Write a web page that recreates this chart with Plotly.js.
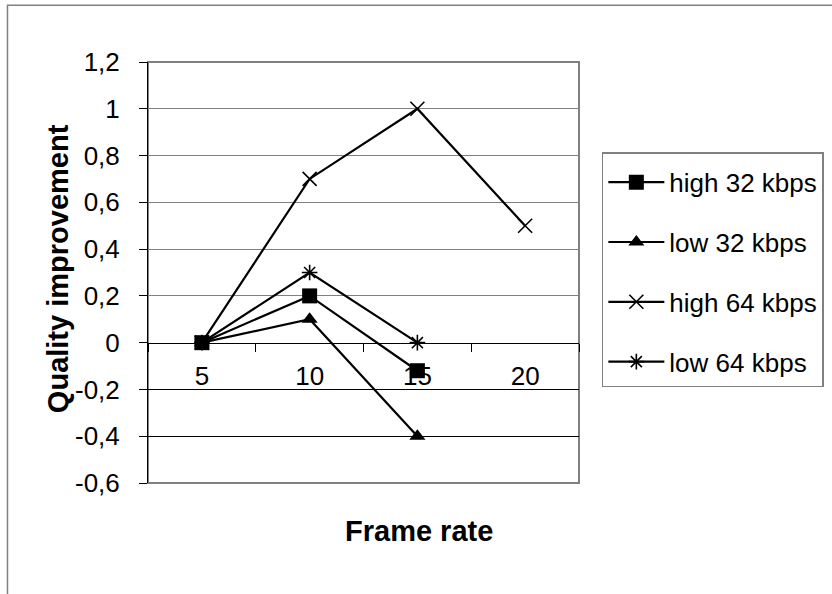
<!DOCTYPE html>
<html>
<head>
<meta charset="utf-8">
<script src="https://cdn.plot.ly/plotly-3.0.1.min.js"></script>
<style>html,body{margin:0;padding:0;background:#fff;}#chart{width:832px;height:594px;}</style>
</head>
<body>
<div id="chart"></div>
<script>
// ---- data ----
const frameRates = ['5', '10', '15', '20'];
const high32 = [0, 0.2, -0.12, null];
const low32 = [0, 0.1, -0.4, null];
const high64 = [0, 0.7, 1.0, 0.5];
const low64 = [0, 0.3, 0, null];
const yTickVals = [-0.6, -0.4, -0.2, 0, 0.2, 0.4, 0.6, 0.8, 1, 1.2];
const yTickLabels = ['-0,6', '-0,4', '-0,2', '0', '0,2', '0,4', '0,6', '0,8', '1', '1,2'];
const posGrid = [0.2, 0.4, 0.6, 0.8, 1, 1.2];
const negGrid = [-0.4, -0.2];

const FONT = 'Liberation Sans, Arial, sans-serif';
const base = {type: 'scatter', mode: 'lines+markers', x: frameRates, line: {color: '#000', width: 2.2}};

const traces = [
  Object.assign({}, base, {name: 'high 64 kbps', y: high64, legendgroup: 'g3', legendrank: 3,
    marker: {symbol: 'x-thin', size: 14, color: '#000', line: {color: '#000', width: 1.6}}}),
  Object.assign({}, base, {name: 'low 64 kbps', y: low64, legendgroup: 'g4', legendrank: 4,
    marker: {symbol: 'asterisk', size: 13, color: '#000', line: {color: '#000', width: 1.6}}}),
  Object.assign({}, base, {name: 'low 32 kbps', y: low32, legendgroup: 'g2', legendrank: 2,
    marker: {symbol: 'triangle-up', size: 14, color: '#000'}}),
  Object.assign({}, base, {name: 'high 32 kbps', y: high32, legendgroup: 'g1', legendrank: 1,
    marker: {symbol: 'square', size: 15, color: '#000'}}),
  // helper traces to attach the grid overlay axes
  {type: 'scatter', x: [frameRates[0]], y: [null], yaxis: 'y2', showlegend: false, hoverinfo: 'skip'},
  {type: 'scatter', x: [frameRates[0]], y: [null], yaxis: 'y3', showlegend: false, hoverinfo: 'skip'}
];

const yRange = [-0.6, 1.2];

const layout = {
  width: 832, height: 594,
  margin: {l: 148, r: 253, t: 62, b: 111, pad: 0, autoexpand: false},
  paper_bgcolor: '#fff', plot_bgcolor: '#fff',
  font: {family: FONT, size: 26, color: '#000'},
  showlegend: true,
  xaxis: {
    type: 'category', categoryorder: 'array', categoryarray: frameRates,
    range: [-0.5, 3.5], fixedrange: true,
    anchor: 'free', position: 1/3,
    showline: true, linecolor: '#000', linewidth: 1,
    showgrid: false, zeroline: false,
    ticks: 'outside', tickson: 'boundaries', ticklen: 8, tickcolor: '#000', tickwidth: 1,
    ticklabelstandoff: 10,
    tickfont: {family: FONT, size: 26, color: '#000'}
  },
  yaxis: {
    range: yRange, fixedrange: true,
    tickmode: 'array', tickvals: yTickVals, ticktext: yTickLabels,
    showline: true, linecolor: '#000', linewidth: 1,
    showgrid: false, zeroline: false,
    ticks: 'outside', ticklen: 8, tickcolor: '#000', tickwidth: 1,
    ticklabelstandoff: 14,
    tickfont: {family: FONT, size: 26, color: '#000'}
  },
  yaxis2: {
    overlaying: 'y', range: yRange, fixedrange: true,
    tickmode: 'array', tickvals: posGrid, showticklabels: false, ticks: '',
    showgrid: true, gridcolor: '#808080', gridwidth: 1, zeroline: false, showline: false
  },
  yaxis3: {
    overlaying: 'y', range: yRange, fixedrange: true,
    tickmode: 'array', tickvals: negGrid, showticklabels: false, ticks: '',
    showgrid: true, gridcolor: '#000', gridwidth: 1, zeroline: false, showline: false
  },
  legend: {
    x: 1.053, xanchor: 'left', y: 0.786, yanchor: 'top',
    traceorder: 'grouped', tracegroupgap: 23,
    bordercolor: '#808080', borderwidth: 1.5, bgcolor: '#fff',
    font: {family: FONT, size: 26, color: '#000'},
    itemwidth: 56,
    title: {text: ' ', font: {family: FONT, size: 4, color: '#000'}}
  },
  annotations: [
    {text: '<b>Frame rate</b>', xref: 'paper', yref: 'paper', x: 0.629, y: -0.114,
     xanchor: 'center', yanchor: 'middle', showarrow: false,
     font: {family: FONT, size: 29, color: '#000'}},
    {text: '<b>Quality improvement</b>', xref: 'paper', yref: 'paper', x: -0.2088, y: 0.508,
     xanchor: 'center', yanchor: 'middle', textangle: -90, showarrow: false,
     font: {family: FONT, size: 29, color: '#000'}}
  ],
  shapes: [
    {type: 'rect', xref: 'paper', yref: 'paper', x0: 0, x1: 1, y0: 0, y1: 1,
     line: {color: '#808080', width: 2}, layer: 'below'},
    {type: 'rect', xref: 'paper', yref: 'paper', x0: -0.326, x1: 2, y0: -1, y1: 1.1346,
     line: {color: '#808080', width: 1.5}, fillcolor: 'rgba(0,0,0,0)', layer: 'below'}
  ]
};

Plotly.newPlot('chart', traces, layout, {displayModeBar: false, staticPlot: true});
</script>
</body>
</html>
